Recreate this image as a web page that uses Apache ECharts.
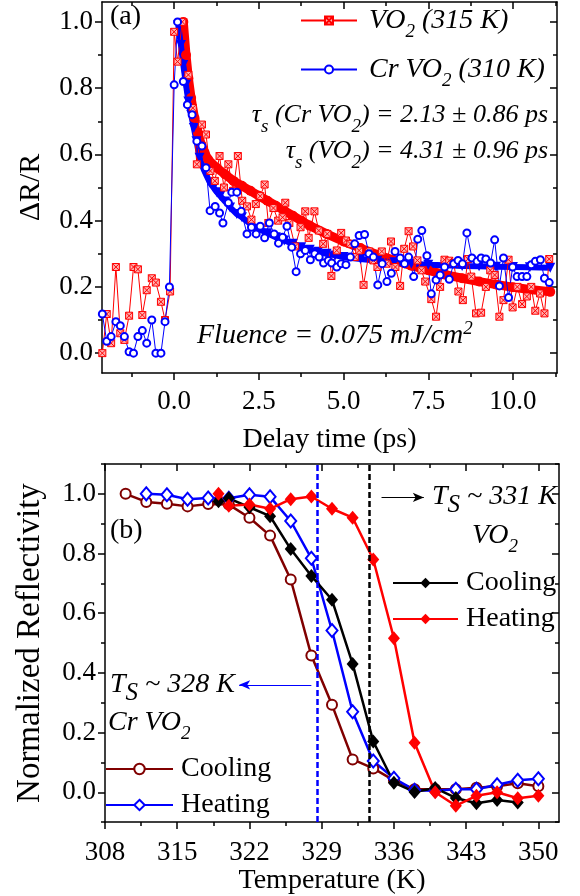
<!DOCTYPE html>
<html>
<head>
<meta charset="utf-8">
<script src="https://cdn.jsdelivr.net/npm/echarts@6/dist/echarts.min.js"></script>
<style>
  html, body { margin: 0; padding: 0; background: #fff; }
  #main { width: 580px; height: 896px; }
</style>
</head>
<body>
<div id="main"></div>
<script>
var SERIF = '"Liberation Serif", "Times New Roman", serif';

// ---- panel (a): transient reflectivity ----
var aXMajor = [0, 2.5, 5, 7.5, 10];
var aXMinor = [-1.25, 1.25, 3.75, 6.25, 8.75, 11.25];
var aYMajor = [0, 0.2, 0.4, 0.6, 0.8, 1.0];
var aYMinor = [0.1, 0.3, 0.5, 0.7, 0.9];

var vo2Raw = [
  [-2.12, 0.0], [-1.99, 0.118], [-1.86, 0.03], [-1.72, 0.26], [-1.59, 0.06], [-1.47, 0.04],
  [-1.33, 0.113], [-1.2, 0.26], [-1.07, 0.253], [-0.94, 0.115], [-0.81, 0.19], [-0.66, 0.226],
  [-0.54, 0.213], [-0.39, 0.155], [-0.27, 0.10], [-0.12, 0.186],
  [0.0, 0.97], [0.1, 0.88], [0.24, 1.0], [0.42, 0.84], [0.55, 0.74], [0.67, 0.57], [0.82, 0.69],
  [0.94, 0.66], [1.07, 0.55], [1.2, 0.52], [1.34, 0.595], [1.47, 0.5], [1.6, 0.57], [1.74, 0.49],
  [1.88, 0.595], [2.01, 0.46], [2.15, 0.443], [2.28, 0.403], [2.41, 0.45], [2.54, 0.474],
  [2.67, 0.509], [2.78, 0.393], [2.93, 0.438], [3.07, 0.40], [3.2, 0.41], [3.28, 0.454],
  [3.4, 0.393], [3.57, 0.322], [3.73, 0.38], [3.87, 0.428], [3.97, 0.348], [4.14, 0.428],
  [4.27, 0.37], [4.4, 0.33], [4.52, 0.36], [4.64, 0.233], [4.8, 0.31], [4.93, 0.363],
  [5.07, 0.34], [5.2, 0.33], [5.33, 0.29], [5.46, 0.31], [5.59, 0.206], [5.76, 0.307],
  [5.88, 0.28], [6.0, 0.26], [6.13, 0.307], [6.27, 0.27], [6.4, 0.337], [6.53, 0.26],
  [6.67, 0.203], [6.79, 0.315], [6.92, 0.368], [7.05, 0.322], [7.18, 0.28], [7.3, 0.25],
  [7.41, 0.216], [7.59, 0.163], [7.73, 0.11], [7.85, 0.2], [7.98, 0.282], [8.12, 0.279],
  [8.25, 0.272], [8.39, 0.186], [8.52, 0.16], [8.67, 0.284], [8.77, 0.231], [8.91, 0.12],
  [9.06, 0.122], [9.2, 0.2], [9.33, 0.25], [9.46, 0.236], [9.6, 0.11], [9.72, 0.16],
  [9.87, 0.282], [9.99, 0.138], [10.13, 0.2], [10.27, 0.148], [10.41, 0.171], [10.54, 0.2],
  [10.66, 0.128], [10.8, 0.18], [10.93, 0.12], [11.07, 0.284]
];

var crRaw = [
  [-2.12, 0.118], [-1.99, 0.036], [-1.86, 0.05], [-1.72, 0.095], [-1.59, 0.083], [-1.47, 0.05],
  [-1.33, 0.004], [-1.2, 0.0], [-1.07, 0.05], [-0.94, 0.068], [-0.81, 0.03], [-0.66, 0.10],
  [-0.54, 0.0], [-0.39, 0.0], [-0.27, 0.095], [-0.14, 0.2],
  [0.0, 0.81], [0.1, 1.0], [0.27, 0.82], [0.39, 0.75], [0.53, 0.72], [0.67, 0.64], [0.82, 0.625],
  [0.94, 0.56], [1.06, 0.43], [1.21, 0.443], [1.34, 0.423], [1.44, 0.393], [1.6, 0.454],
  [1.7, 0.486], [1.85, 0.486], [1.98, 0.428], [2.15, 0.36], [2.28, 0.38], [2.42, 0.36],
  [2.54, 0.383], [2.67, 0.348], [2.81, 0.393], [2.95, 0.36], [3.08, 0.332], [3.2, 0.35],
  [3.33, 0.383], [3.47, 0.32], [3.6, 0.246], [3.73, 0.3], [3.87, 0.31], [4.02, 0.282],
  [4.15, 0.3], [4.28, 0.29], [4.41, 0.272], [4.55, 0.28], [4.65, 0.272], [4.8, 0.26],
  [4.93, 0.27], [5.07, 0.267], [5.2, 0.29], [5.33, 0.33], [5.46, 0.355], [5.62, 0.358],
  [5.75, 0.3], [5.88, 0.29], [6.01, 0.206], [6.14, 0.27], [6.28, 0.216], [6.41, 0.241],
  [6.52, 0.307], [6.67, 0.287], [6.8, 0.27], [6.92, 0.29], [7.07, 0.231], [7.19, 0.344],
  [7.31, 0.37], [7.46, 0.294], [7.59, 0.179], [7.73, 0.221], [7.85, 0.236], [7.98, 0.26],
  [8.12, 0.223], [8.25, 0.27], [8.38, 0.28], [8.51, 0.27], [8.64, 0.363], [8.79, 0.287],
  [8.94, 0.277], [9.06, 0.287], [9.2, 0.284], [9.34, 0.272], [9.46, 0.342], [9.6, 0.203],
  [9.72, 0.287], [9.87, 0.168], [9.99, 0.26], [10.12, 0.231], [10.27, 0.231], [10.41, 0.231],
  [10.54, 0.267], [10.66, 0.277], [10.81, 0.282], [10.93, 0.226], [11.07, 0.213]
];

// fitted curves
var vo2Fit = [
  [0.27, 1.0], [0.35, 0.9], [0.42, 0.83], [0.5, 0.77], [0.6, 0.71], [0.7, 0.665], [0.8, 0.63],
  [0.9, 0.605], [1.0, 0.585], [1.25, 0.56], [1.5, 0.54], [1.75, 0.52], [2.0, 0.505],
  [2.25, 0.49], [2.5, 0.475], [2.75, 0.46], [3.0, 0.445], [3.25, 0.43], [3.5, 0.415],
  [3.75, 0.4], [4.0, 0.385], [4.5, 0.36], [5.0, 0.337], [5.5, 0.317], [6.0, 0.297],
  [6.5, 0.28], [7.0, 0.264], [7.5, 0.25], [8.0, 0.237], [8.5, 0.226], [9.0, 0.216],
  [9.5, 0.207], [10.0, 0.199], [10.5, 0.192], [11.1, 0.185]
];
var crFit = [
  [0.12, 0.99], [0.2, 0.93], [0.27, 0.87], [0.35, 0.81], [0.42, 0.76], [0.5, 0.72], [0.58, 0.68],
  [0.66, 0.64], [0.75, 0.59], [0.87, 0.555], [0.96, 0.535], [1.06, 0.514], [1.16, 0.5],
  [1.26, 0.486], [1.36, 0.474], [1.5, 0.458], [1.65, 0.44], [1.85, 0.42], [2.0, 0.41],
  [2.25, 0.39], [2.5, 0.375], [2.75, 0.362], [3.0, 0.35], [3.25, 0.34], [3.5, 0.33],
  [3.75, 0.32], [4.0, 0.312], [4.25, 0.306], [4.5, 0.3], [4.75, 0.295], [5.0, 0.29],
  [5.5, 0.284], [6.0, 0.279], [6.5, 0.274], [7.0, 0.27], [7.5, 0.267], [8.0, 0.265],
  [8.5, 0.263], [9.0, 0.262], [9.5, 0.261], [10.0, 0.26], [10.5, 0.259], [11.1, 0.258]
];

// ---- panel (b): temperature dependent reflectivity ----
var bXMajor = [308, 315, 322, 329, 336, 343, 350];
var bXMinor = [311.5, 318.5, 325.5, 332.5, 339.5, 346.5];
var bYMajor = [0, 0.2, 0.4, 0.6, 0.8, 1.0];
var bYMinor = [-0.1, 0.1, 0.3, 0.5, 0.7, 0.9, 1.1];

var tVo2Cool = [319, 320, 322, 324, 326, 328, 330, 332, 334, 336, 338, 340, 342, 344, 346, 348];
var vo2Cool = [0.975, 0.985, 0.955, 0.925, 0.815, 0.725, 0.645, 0.43, 0.17, 0.032, 0.001, 0.014, -0.019, -0.037, -0.026, -0.034];
var tVo2Heat = [319, 320, 322, 324, 326, 328, 330, 332, 334, 336, 338, 340, 342, 344, 346, 348, 350];
var vo2Heat = [1.0, 0.96, 0.964, 0.95, 0.982, 0.991, 0.95, 0.92, 0.78, 0.516, 0.166, 0.0, -0.045, -0.012, 0.0, -0.02, -0.012];
var tCrCool = [310, 312, 314, 316, 318, 320, 322, 324, 326, 328, 330, 332, 334, 336, 338, 340, 342, 344, 346, 348, 350];
var crCool = [1.0, 0.973, 0.967, 0.958, 0.966, 0.964, 0.92, 0.86, 0.713, 0.458, 0.293, 0.11, 0.08, 0.04, 0.01, 0.01, 0.01, 0.015, 0.02, 0.03, 0.02];
var tCrHeat = [312, 314, 316, 318, 320, 322, 324, 326, 328, 330, 332, 334, 336, 338, 340, 342, 344, 346, 348, 350];
var crHeat = [1.0, 0.997, 0.982, 0.986, 0.985, 0.997, 0.99, 0.909, 0.784, 0.542, 0.27, 0.105, 0.047, 0.007, 0.005, 0.01, 0.01, 0.025, 0.04, 0.045];

var tsCr = 328.6;   // blue dashed line
var tsVo2 = 333.65; // black dashed line

function pairs(xs, ys) {
  return xs.map(function (x, i) { return [x, ys[i]]; });
}

function axisSet(grid, isX, min, max, major, minor, fmt, name, nameGap, nameSize, margin) {
  var pos = isX ? ['bottom', 'top'] : ['left', 'right'];
  var line = { color: '#000', width: 1.5 };
  var base = { gridIndex: grid, type: 'value', min: min, max: max, splitLine: { show: false } };
  var main = Object.assign({}, base, {
    position: pos[0],
    axisLine: { show: true, onZero: false, lineStyle: line },
    axisTick: { show: true, customValues: major, length: 7, lineStyle: line },
    axisLabel: {
      customValues: major, formatter: fmt, color: '#000',
      fontFamily: SERIF, fontSize: 27, margin: margin
    },
    name: name, nameLocation: 'middle', nameGap: nameGap,
    nameTextStyle: { fontFamily: SERIF, fontSize: nameSize, color: '#000' }
  });
  var mainMinor = Object.assign({}, base, {
    position: pos[0],
    axisLine: { show: false, onZero: false },
    axisTick: { show: true, customValues: minor, length: 4, lineStyle: line },
    axisLabel: { show: false }
  });
  var opp = Object.assign({}, base, {
    position: pos[1],
    axisLine: { show: true, onZero: false, lineStyle: line },
    axisTick: { show: true, inside: true, customValues: major, length: 7, lineStyle: line },
    axisLabel: { show: false }
  });
  var oppMinor = Object.assign({}, base, {
    position: pos[1],
    axisLine: { show: false, onZero: false },
    axisTick: { show: true, inside: true, customValues: minor, length: 4, lineStyle: line },
    axisLabel: { show: false }
  });
  return [main, mainMinor, opp, oppMinor];
}

var f1 = function (v) { return v.toFixed(1); };
var f0 = function (v) { return String(v); };

var RICH = {
  i: { fontFamily: SERIF, fontStyle: 'italic', fontSize: 28, lineHeight: 40, color: '#000' },
  u: { fontFamily: SERIF, fontStyle: 'italic', fontSize: 26, lineHeight: 40, color: '#000' },
  n: { fontFamily: SERIF, fontSize: 28, lineHeight: 40, color: '#000' },
  s: { fontFamily: SERIF, fontStyle: 'italic', fontSize: 19, lineHeight: 19, padding: [22, 0, 0, 0], color: '#000' },
  S: { fontFamily: SERIF, fontStyle: 'italic', fontSize: 25, lineHeight: 25, padding: [17, 0, 0, 0], color: '#000' },
  p: { fontFamily: SERIF, fontStyle: 'italic', fontSize: 19, lineHeight: 19, padding: [4, 0, 18, 0], color: '#000' },
  g: { fontFamily: SERIF, fontStyle: 'italic', fontSize: 28, lineHeight: 40, color: '#000', padding: [0, 0, 0, 7] },
  t: { fontFamily: SERIF, fontSize: 28, lineHeight: 30, color: '#000', padding: [0, 0, 0, 3] }
};

function txt(text, pos) {
  return Object.assign({ type: 'text', z: 50, style: { text: text, rich: RICH, fill: '#000' } }, pos);
}

var xAxes = axisSet(0, true, -2.13, 11.3, aXMajor, aXMinor, f1, 'Delay time (ps)', 53, 28, 15)
  .concat(axisSet(1, true, 308, 352, bXMajor, bXMinor, f0, 'Temperature (K)', 39, 28, 17));
var yAxes = axisSet(0, false, -0.06, 1.06, aYMajor, aYMinor, f1, '\u0394R/R', 56, 30, 9)
  .concat(axisSet(1, false, -0.1, 1.1, bYMajor, bYMinor, f1, 'Normalized Reflectivity', 58, 33, 9));

var crossSquare = 'path://M0 0H10V10H0Z M0 0L10 10 M10 0L0 10';

var option = {
  backgroundColor: '#fff',
  animation: false,
  grid: [
    { left: 102, right: 23, top: 2, height: 371 },
    { left: 105, right: 21, top: 464, height: 363 }
  ],
  xAxis: xAxes,
  yAxis: yAxes,
  legend: [
    {
      data: ['VO2 (315 K)', 'Cr VO2 (310 K)'],
      orient: 'vertical', left: 300, top: 0, padding: 0, itemWidth: 56, itemHeight: 10, itemGap: 8,
      formatter: function (n) {
        return n.indexOf('Cr') === 0 ? '{g|Cr VO}{s|2}{i| (310 K)}' : '{g|VO}{s|2}{i| (315 K)}';
      },
      textStyle: { rich: RICH }
    },
    {
      data: ['VO2 cooling', 'VO2 heating'],
      orient: 'vertical', left: 392, top: 569, padding: 0, itemWidth: 65, itemHeight: 13, itemGap: 8,
      formatter: function (n) { return n.indexOf('cooling') > 0 ? '{t|Cooling}' : '{t|Heating}'; },
      textStyle: { rich: RICH }
    },
    {
      data: ['Cr cooling', 'Cr heating'],
      orient: 'vertical', left: 105, top: 755, padding: 0, itemWidth: 67, itemHeight: 13, itemGap: 8,
      formatter: function (n) { return n.indexOf('cooling') > 0 ? '{t|Cooling}' : '{t|Heating}'; },
      textStyle: { rich: RICH }
    }
  ],
  series: [
    {
      name: 'VO2 fit', type: 'line', xAxisIndex: 0, yAxisIndex: 0, data: vo2Fit,
      symbol: 'circle', symbolSize: 10,
      itemStyle: { color: '#ff0000' }, lineStyle: { color: '#ff0000', width: 9 }
    },
    {
      name: 'Cr fit', type: 'line', xAxisIndex: 0, yAxisIndex: 0, data: crFit,
      symbol: 'triangle', symbolRotate: 180, symbolSize: 10,
      itemStyle: { color: '#0000ff' }, lineStyle: { color: '#0000ff', width: 6 }
    },
    {
      name: 'VO2 (315 K)', type: 'line', xAxisIndex: 0, yAxisIndex: 0, data: vo2Raw,
      symbol: crossSquare, symbolSize: 7,
      itemStyle: { color: '#ffb0b0', borderColor: '#ff0000', borderWidth: 1 },
      lineStyle: { color: '#ff0000', width: 1 }
    },
    {
      name: 'Cr VO2 (310 K)', type: 'line', xAxisIndex: 0, yAxisIndex: 0, data: crRaw,
      symbol: 'emptyCircle', symbolSize: 7,
      itemStyle: { color: '#0000ff', borderWidth: 1 },
      lineStyle: { color: '#0000ff', width: 1 }
    },
    {
      name: 'Cr cooling', type: 'line', xAxisIndex: 4, yAxisIndex: 4, data: pairs(tCrCool, crCool),
      symbol: 'emptyCircle', symbolSize: 10,
      itemStyle: { color: '#800000', borderWidth: 1.5 },
      lineStyle: { color: '#800000', width: 2.5 },
      markLine: {
        silent: true, symbol: ['none', 'none'], label: { show: false },
        data: [
          { xAxis: tsCr, lineStyle: { color: '#0000ff', type: [6, 3], width: 2.5 } },
          { xAxis: tsVo2, lineStyle: { color: '#000', type: [6, 3], width: 2.5 } }
        ]
      }
    },
    {
      name: 'Cr heating', type: 'line', xAxisIndex: 4, yAxisIndex: 4, data: pairs(tCrHeat, crHeat),
      symbol: 'emptyDiamond', symbolSize: [11, 13],
      itemStyle: { color: '#0000ff', borderWidth: 1.5 },
      lineStyle: { color: '#0000ff', width: 2.5 },
      markLine: {
        silent: true, symbol: ['none', 'arrow'], symbolSize: [7, 11], label: { show: false },
        data: [
          [
            { coord: [328.0, 0.36], lineStyle: { color: '#0000ff', type: 'solid', width: 1.2 } },
            { coord: [321.0, 0.36] }
          ]
        ]
      }
    },
    {
      name: 'VO2 cooling', type: 'line', xAxisIndex: 4, yAxisIndex: 4, data: pairs(tVo2Cool, vo2Cool),
      symbol: 'diamond', symbolSize: [12, 14],
      itemStyle: { color: '#000' }, lineStyle: { color: '#000', width: 2.5 },
      markLine: {
        silent: true, symbol: ['none', 'arrow'], symbolSize: [7, 11], label: { show: false },
        data: [
          [
            { coord: [334.8, 0.988], lineStyle: { color: '#000', type: 'solid', width: 1.2 } },
            { coord: [338.9, 0.988] }
          ]
        ]
      }
    },
    {
      name: 'VO2 heating', type: 'line', xAxisIndex: 4, yAxisIndex: 4, data: pairs(tVo2Heat, vo2Heat),
      symbol: 'diamond', symbolSize: [12, 14],
      itemStyle: { color: '#ff0000' }, lineStyle: { color: '#ff0000', width: 2.5 }
    }
  ],
  graphic: [
    txt('{n|(a)}', { left: 110, top: 3 }),
    txt('{u|\u03c4}{s|s}{u| (Cr VO}{s|2}{u|) = 2.13 \u00b1 0.86 ps}', { right: 32, top: 95 }),
    txt('{u|\u03c4}{s|s}{u| (VO}{s|2}{u|) = 4.31 \u00b1 0.96 ps}', { right: 32, top: 131 }),
    txt('{i|Fluence = 0.075 mJ/cm}{p|2}', { left: 197, top: 315 }),
    txt('{n|(b)}', { left: 110, top: 517 }),
    txt('{i|T}{S|S}{i| ~ 331 K}', { left: 432, top: 476 }),
    txt('{i|VO}{s|2}', { left: 472, top: 515 }),
    txt('{i|T}{S|S}{i| ~ 328 K}', { left: 110, top: 664 }),
    txt('{i|Cr VO}{s|2}', { left: 108, top: 702 })
  ]
};

var chart = echarts.init(document.getElementById('main'));
chart.setOption(option);
</script>
</body>
</html>
